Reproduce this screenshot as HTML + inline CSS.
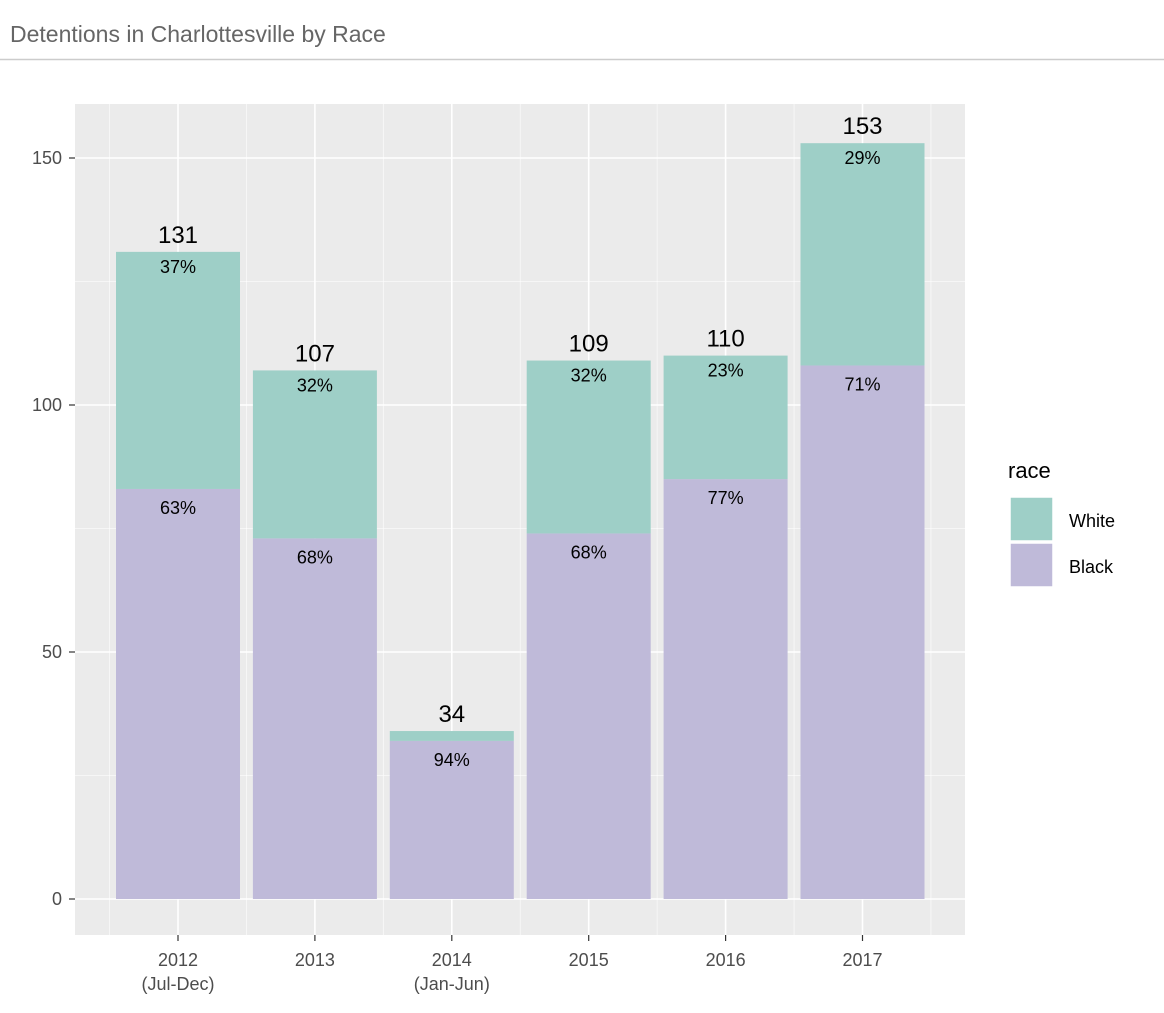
<!DOCTYPE html>
<html><head><meta charset="utf-8"><style>
body{margin:0;background:#fff;font-family:"Liberation Sans",sans-serif}
</style></head><body>
<svg id="c" width="1164" height="1008" xmlns="http://www.w3.org/2000/svg">
<text x="10" y="42" font-size="23" fill="#666">Detentions in Charlottesville by Race</text>
<line x1="0" y1="59.5" x2="1164" y2="59.5" stroke="#ccc" stroke-width="1.5"/>
<rect x="75" y="104" width="890" height="831" fill="#ebebeb"/>
<g id="grid"></g><g id="bars"></g><g id="axes"></g>
<g>
<text x="1008" y="478" font-size="22" fill="#000">race</text>
<rect x="1010" y="497" width="43" height="44" fill="#9ecfc7" stroke="#fff" stroke-width="1.5"/>
<text x="1069" y="527" font-size="18">White</text>
<rect x="1010" y="543" width="43" height="44" fill="#bfbad9" stroke="#fff" stroke-width="1.5"/>
<text x="1069" y="573" font-size="18">Black</text>
</g>
</svg>
<script>
const categories=["2012\n(Jul-Dec)","2013","2014\n(Jan-Jun)","2015","2016","2017"];
const blackVals=[83,73,32,74,85,108];
const totals=[131,107,34,109,110,153];
const yTicks=[0,50,100,150];
const yMinor=[25,75,125];
const NS="http://www.w3.org/2000/svg";
const y=v=>899-v*4.94;
const x=i=>178+i*136.9;
const bw=124;
function mk(g,tag,a,txt){const e=document.createElementNS(NS,tag);for(const k in a)e.setAttribute(k,a[k]);if(txt!==undefined)e.textContent=txt;document.getElementById(g).appendChild(e);return e;}
yMinor.forEach(v=>{const e=mk('grid','line',{x1:75,x2:965,y1:y(v),y2:y(v),stroke:'#fff','stroke-width':0.8,opacity:0.7});

});
for(let i=0;i<=categories.length;i++){const xx=x(i)-68.45;const e=mk('grid','line',{x1:xx,x2:xx,y1:104,y2:935,stroke:'#fff','stroke-width':0.8,opacity:0.7});

}
yTicks.forEach(v=>{const e=mk('grid','line',{x1:75,x2:965,y1:y(v),y2:y(v),stroke:'#fff','stroke-width':1.6});


const t=mk('axes','line',{x1:69,x2:75,y1:y(v),y2:y(v),stroke:'#333','stroke-width':1.2});


const l=mk('axes','text',{x:62,y:y(v)+6,'font-size':18,fill:'#4d4d4d','text-anchor':'end'},v);

});
categories.forEach((c,i)=>{const e=mk('grid','line',{x1:x(i),x2:x(i),y1:104,y2:935,stroke:'#fff','stroke-width':1.6});


const t=mk('axes','line',{x1:x(i),x2:x(i),y1:935,y2:941,stroke:'#333','stroke-width':1.2});


c.split('\n').forEach((p,j)=>{const l=mk('axes','text',{x:x(i),y:966+j*24,'font-size':18,fill:'#4d4d4d','text-anchor':'middle'},p);

});
const b=blackVals[i],tot=totals[i],w=tot-b;
const rb=mk('bars','rect',{x:x(i)-bw/2,y:y(b),width:bw,height:y(0)-y(b),fill:'#bfbad9'});


const rw=mk('bars','rect',{x:x(i)-bw/2,y:y(tot),width:bw,height:y(b)-y(tot),fill:'#9ecfc7'});


const pb=mk('bars','text',{x:x(i),y:y(b)+25,'font-size':18,'text-anchor':'middle'},Math.round(b/tot*100)+'%');


if(w>3){const pw=mk('bars','text',{x:x(i),y:y(tot)+21,'font-size':18,'text-anchor':'middle'},Math.round(w/tot*100)+'%');

}
const tl=mk('bars','text',{x:x(i),y:y(tot)-9,'font-size':24,'text-anchor':'middle'},tot);

});
</script>
</body></html>
